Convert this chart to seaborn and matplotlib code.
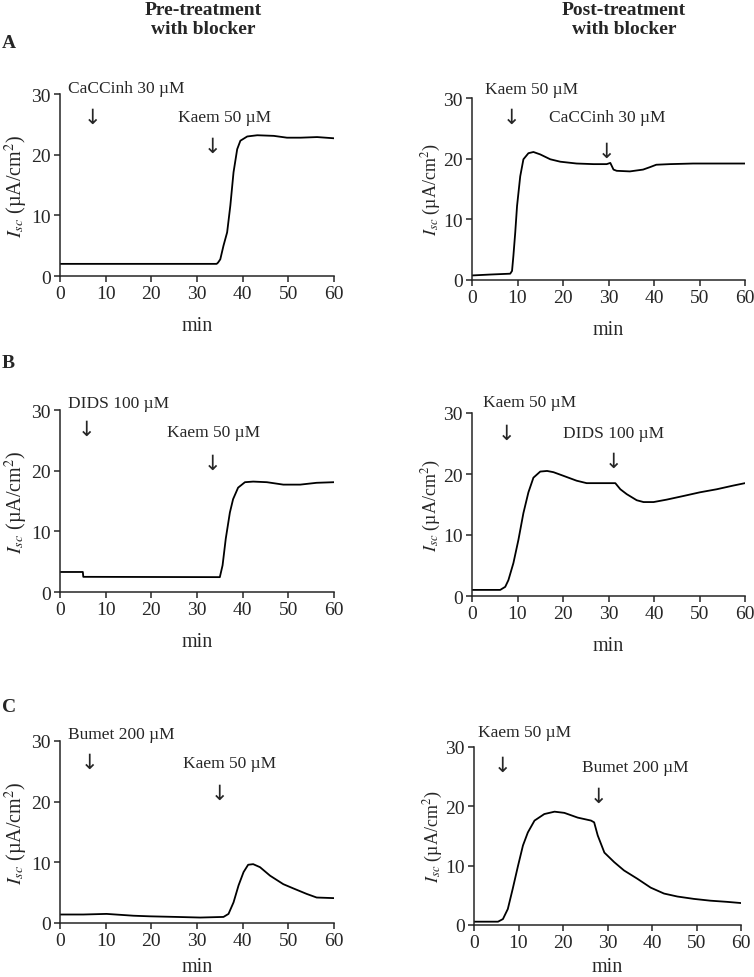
import matplotlib
matplotlib.use("Agg")
import matplotlib.pyplot as plt
import seaborn as sns

# ── Traces (time in min, Isc in µA/cm²) ──────────────────────────────
a_pre_t = [0, 34.3, 34.6, 35.1, 35.8, 36.6, 37.3, 38.0, 38.8, 39.5, 41.0, 43.2,
           46.8, 49.7, 52.7, 56.3, 60]
a_pre_y = [2.0, 2.0, 2.2, 2.75, 5.0, 7.2, 11.6, 17.1, 20.9, 22.3, 23.0, 23.2,
           23.1, 22.8, 22.8, 22.9, 22.7]

a_post_t = [0, 4.0, 8.4, 8.8, 9.1, 9.5, 9.9, 10.6, 11.3, 12.4, 13.5, 15.0, 17.2,
            19.4, 23.0, 26.7, 29.6, 30.4, 31.1, 31.8, 34.7, 37.6, 39.1, 40.5,
            43.5, 48.6, 60]
a_post_y = [0.75, 0.9, 1.04, 1.5, 4.0, 7.8, 12.2, 17.1, 19.9, 20.9, 21.1, 20.7,
            19.9, 19.5, 19.2, 19.1, 19.1, 19.3, 18.2, 18.0, 17.9, 18.2, 18.6,
            19.0, 19.1, 19.2, 19.2]

b_pre_t = [0, 5.0, 5.1, 35.0, 35.6, 36.3, 37.2, 37.9, 39.0, 40.5, 42.3, 45.3,
           48.9, 52.6, 56.2, 60]
b_pre_y = [3.3, 3.3, 2.5, 2.45, 4.4, 8.8, 13.1, 15.3, 17.2, 18.1, 18.2, 18.1,
           17.7, 17.7, 18.0, 18.1]

b_post_t = [0, 6.2, 7.3, 8.0, 9.1, 10.2, 11.3, 12.4, 13.5, 15.0, 16.5, 17.9,
            20.1, 23.0, 25.2, 30.4, 31.5, 32.6, 34.0, 36.2, 37.7, 39.9, 42.8,
            46.5, 50.1, 53.8, 57.4, 60]
b_post_y = [1.0, 1.0, 1.5, 2.6, 5.4, 9.2, 13.6, 17.0, 19.4, 20.4, 20.5, 20.3,
            19.7, 18.9, 18.5, 18.5, 18.5, 17.5, 16.7, 15.7, 15.4, 15.4, 15.8,
            16.4, 17.0, 17.5, 18.1, 18.5]

c_pre_t = [0, 5.1, 10.2, 16.1, 19.7, 25.5, 30.7, 35.8, 36.9, 38.0, 39.1, 40.2,
           41.2, 42.3, 43.8, 46.0, 48.9, 51.1, 54.0, 56.2, 60]
c_pre_y = [1.4, 1.4, 1.5, 1.2, 1.1, 1.0, 0.9, 1.0, 1.5, 3.4, 6.2, 8.4, 9.6, 9.7,
           9.2, 7.8, 6.4, 5.7, 4.8, 4.2, 4.1]

c_post_t = [0, 5.4, 6.5, 7.6, 8.7, 9.9, 11.0, 12.1, 13.6, 15.8, 18.1, 20.3,
            23.3, 26.3, 27.0, 27.8, 29.3, 31.5, 33.7, 36.7, 39.7, 42.7, 45.7,
            49.4, 53.1, 56.9, 60]
c_post_y = [0.56, 0.56, 1.0, 2.7, 6.1, 10.0, 13.4, 15.6, 17.6, 18.7, 19.1, 18.9,
            18.1, 17.6, 17.3, 15.1, 12.2, 10.6, 9.2, 7.8, 6.3, 5.3, 4.8, 4.4,
            4.1, 3.9, 3.7]

# ── Drug additions: (label, text x, text y, arrow x, arrow y) ────────
a_pre_marks = [("CaCCinh 30 µM", 1.8, 31.0, 7.2, 26.2), ("Kaem 50 µM", 25.8, 26.2, 33.5, 21.4)]
a_post_marks = [("Kaem 50 µM", 2.9, 31.5, 8.6, 26.8), ("CaCCinh 30 µM", 17.0, 26.8, 29.6, 21.3)]
b_pre_marks = [("DIDS 100 µM", 1.8, 31.2, 5.8, 26.8), ("Kaem 50 µM", 23.4, 26.3, 33.4, 21.3)]
b_post_marks = [("Kaem 50 µM", 2.4, 31.8, 7.5, 26.8), ("DIDS 100 µM", 20.0, 26.8, 31.1, 22.2)]
c_pre_marks = [("Bumet 200 µM", 1.8, 31.2, 6.4, 26.5), ("Kaem 50 µM", 26.9, 26.4, 35.0, 21.5)]
c_post_marks = [("Kaem 50 µM", 0.9, 32.5, 6.3, 26.9), ("Bumet 200 µM", 24.2, 26.6, 28.0, 21.8)]

x_ticks = [0, 10, 20, 30, 40, 50, 60]
y_ticks = [0, 10, 20, 30]

sns.set_theme(style="ticks")
plt.rcParams["font.family"] = ["Liberation Serif", "DejaVu Serif"]
plt.rcParams["mathtext.fontset"] = "stix"
plt.rcParams["axes.linewidth"] = 1.1
plt.rcParams["xtick.major.width"] = 1.1
plt.rcParams["ytick.major.width"] = 1.1
plt.rcParams["xtick.major.size"] = 4.5
plt.rcParams["ytick.major.size"] = 4.5

W, H = 754, 978
fig = plt.figure(figsize=(W / 100, H / 100), dpi=100)

# panel boxes in pixels: left, top, right, bottom ; then side (0 = left column)
panels = [
    ((60, 95, 334, 277), 0, a_pre_t, a_pre_y, a_pre_marks),
    ((472, 99, 745, 281), 1, a_post_t, a_post_y, a_post_marks),
    ((60, 411, 334, 593), 0, b_pre_t, b_pre_y, b_pre_marks),
    ((472, 414, 745, 597), 1, b_post_t, b_post_y, b_post_marks),
    ((60, 742, 334, 924), 0, c_pre_t, c_pre_y, c_pre_marks),
    ((474, 748, 741, 926), 1, c_post_t, c_post_y, c_post_marks),
]

for i, ((l, t, r, b), side, xs, ys, marks) in enumerate(panels):
    ax = fig.add_axes([l / W, 1 - b / H, (r - l) / W, (b - t) / H])
    sns.lineplot(x=xs, y=ys, ax=ax, color="black", linewidth=1.3, estimator=None)
    ax.set_xlim(0, 60)
    ax.set_ylim(0, 30)
    ax.set_xticks(x_ticks)
    ax.set_yticks(y_ticks)
    ax.tick_params(labelsize=14, pad=2)
    sns.despine(ax=ax)
    ax.set_xlabel("min", fontsize=14.5, labelpad=10 if i < 4 else (6 if side == 0 else 4))
    if side == 0:
        ax.set_ylabel(r"$I_{sc}$ (µA/cm$^2$)", fontsize=14.5, labelpad=1)
    else:
        ax.set_ylabel(r"$I_{sc}$ (µA/cm$^2$)", fontsize=13, labelpad=0.5)
    for label, tx, ty, arx, ary in marks:
        ax.text(tx, ty, label, fontsize=12.5, ha="left", va="center", clip_on=False)
        ax.text(arx, ary, "↓", fontsize=15, ha="center", va="center", clip_on=False,
                family=["DejaVu Sans"])

# column headers and panel letters
fig.text(203 / W, 1 - 20 / H, "Pre-treatment\nwith blocker", ha="center", va="center",
         fontsize=14, fontweight="bold", linespacing=1.15)
fig.text(624 / W, 1 - 20 / H, "Post-treatment\nwith blocker", ha="center", va="center",
         fontsize=14, fontweight="bold", linespacing=1.15)
for letter, yy in [("A", 44), ("B", 364), ("C", 708)]:
    fig.text(2 / W, 1 - yy / H, letter, ha="left", va="center", fontsize=14, fontweight="bold")

plt.savefig("out.png", dpi=100)
plt.close()
